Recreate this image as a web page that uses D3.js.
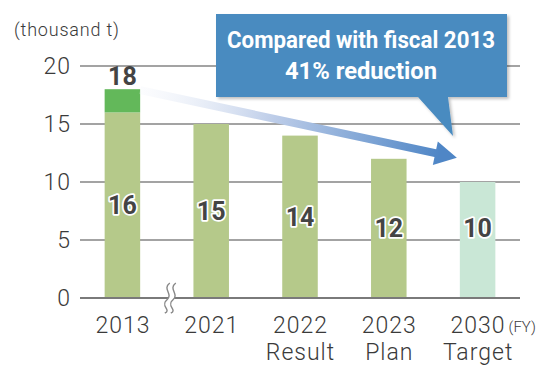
<!DOCTYPE html>
<html>
<head>
<meta charset="utf-8">
<script src="https://cdn.jsdelivr.net/npm/d3@7"></script>
<style>
  html, body { margin: 0; padding: 0; background: #fff; }
  svg { display: block; font-family: Roboto, "Noto Sans", sans-serif; }
</style>
</head>
<body>
<svg id="chart" width="550" height="370"></svg>
<script>
// ---- data ----
const categories = ["2013", "2021", "2022", "2023", "2030"];
const subLabels = ["", "", "Result", "Plan", "Target"];
const baseValues = [16, 15, 14, 12, 10];
const extraValues = [2, 0, 0, 0, 0];        // 2013 extra segment (total 18)
const totalLabel = "18";
const yTicks = [0, 5, 10, 15, 20];
const unitLabel = "(thousand t)";
const fyLabel = "(FY)";
const calloutLines = ["Compared with fiscal 2013", "41% reduction"];

// ---- setup ----
const svg = d3.select("#chart");
const x = d3.scaleBand().domain(categories).range([78, 522]).paddingInner(0.6).paddingOuter(0.3);
const y = d3.scaleLinear().domain([0, 20]).range([298, 66]);

const textCol = "#3a3a3a";
const lightGreen = "#b5c98a";
const darkGreen = "#63b85a";
const targetGreen = "#c9e7d6";

const defs = svg.append("defs");
const grad = defs.append("linearGradient").attr("id", "arrowGrad")
  .attr("gradientUnits", "userSpaceOnUse")
  .attr("x1", x("2013") + x.bandwidth()).attr("y1", y(18))
  .attr("x2", x("2030") - 20).attr("y2", y(12.5));
grad.append("stop").attr("offset", "0").attr("stop-color", "#f4f6fb").attr("stop-opacity", 0.3);
grad.append("stop").attr("offset", "0.45").attr("stop-color", "#bccce8");
grad.append("stop").attr("offset", "1").attr("stop-color", "#4f86c6");

const shadow = defs.append("filter").attr("id", "shadow").attr("x", "-5%").attr("y", "-5%").attr("width", "115%").attr("height", "125%");
shadow.append("feDropShadow").attr("dx", 2).attr("dy", 2).attr("stdDeviation", 1.5)
  .attr("flood-color", "#000").attr("flood-opacity", 0.25);

// gridlines
svg.append("g").selectAll("line").data(yTicks.filter(d => d > 0)).join("line")
  .attr("x1", 80).attr("x2", 520)
  .attr("y1", d => y(d)).attr("y2", d => y(d))
  .attr("stroke", "#858585").attr("stroke-width", 1.5);

// y tick labels
svg.append("g").selectAll("text").data(yTicks).join("text")
  .attr("x", 71).attr("y", d => y(d)).attr("dy", "0.36em")
  .attr("text-anchor", "end").attr("font-size", 23).attr("font-weight", 300)
  .attr("letter-spacing", 1).attr("fill", textCol)
  .text(d => d);

svg.append("text").attr("x", 14).attr("y", 36).attr("font-size", 18).attr("font-weight", 300)
  .attr("letter-spacing", 0.8).attr("fill", textCol)
  .text(unitLabel);

// bars
const bars = svg.append("g");
bars.selectAll("rect.base").data(categories).join("rect")
  .attr("class", "base")
  .attr("x", d => x(d)).attr("width", x.bandwidth())
  .attr("y", (d, i) => y(baseValues[i]))
  .attr("height", (d, i) => y(0) - y(baseValues[i]))
  .attr("fill", (d, i) => i === categories.length - 1 ? targetGreen : lightGreen);
bars.selectAll("rect.extra").data(categories.filter((d, i) => extraValues[i] > 0)).join("rect")
  .attr("class", "extra")
  .attr("x", d => x(d)).attr("width", x.bandwidth())
  .attr("y", d => { const i = categories.indexOf(d); return y(baseValues[i] + extraValues[i]); })
  .attr("height", d => { const i = categories.indexOf(d); return y(baseValues[i]) - y(baseValues[i] + extraValues[i]); })
  .attr("fill", darkGreen);

// baseline
svg.append("line").attr("x1", 80).attr("x2", 520).attr("y1", y(0)).attr("y2", y(0))
  .attr("stroke", "#7a7a7a").attr("stroke-width", 2);

// axis break
const bx = (x("2013") + x.bandwidth() + x("2021")) / 2;
const br = svg.append("g").attr("transform", `translate(${bx},${y(0)})`);
const wave = "M3,-15 C-5,-9 7,-4 0,2 C-7,8 5,12 -2,15";
br.append("path").attr("d", "M3,-15 C-5,-9 7,-4 0,2 C-7,8 5,12 -2,15 L4,15 C11,12 -1,8 6,2 C13,-4 1,-9 9,-15 Z")
  .attr("fill", "#fff");
br.append("path").attr("d", wave).attr("fill", "none").attr("stroke", "#888").attr("stroke-width", 1.4);
br.append("path").attr("d", wave).attr("transform", "translate(6,0)").attr("fill", "none").attr("stroke", "#888").attr("stroke-width", 1.4);

// value labels
const valLabel = (sel) => sel.attr("text-anchor", "middle").attr("font-size", 25).attr("font-weight", 700)
  .attr("fill", "#444").attr("stroke", "#fff").attr("stroke-width", 3.5).attr("paint-order", "stroke")
  .attr("stroke-linejoin", "round");
svg.append("g").selectAll("text").data(categories).join("text")
  .attr("x", d => x(d) + x.bandwidth() / 2)
  .attr("y", (d, i) => y(Math.max(baseValues[i] / 2, 6)))
  .attr("dy", "0.36em")
  .call(valLabel)
  .text((d, i) => baseValues[i]);
svg.append("text").attr("x", x("2013") + x.bandwidth() / 2).attr("y", y(18) - 13).attr("dy", "0.36em")
  .attr("text-anchor", "middle").attr("font-size", 25).attr("font-weight", 700).attr("fill", "#444")
  .text(totalLabel);

// x labels
const xl = svg.append("g");
xl.selectAll("text.cat").data(categories).join("text").attr("class", "cat")
  .attr("x", d => x(d) + x.bandwidth() / 2 + 0.5).attr("y", 333)
  .attr("text-anchor", "middle").attr("font-size", 23).attr("font-weight", 300)
  .attr("letter-spacing", 1).attr("fill", textCol)
  .text(d => d);
xl.selectAll("text.sub").data(categories).join("text").attr("class", "sub")
  .attr("x", d => x(d) + x.bandwidth() / 2 + 0.5).attr("y", 360)
  .attr("text-anchor", "middle").attr("font-size", 23).attr("font-weight", 300)
  .attr("letter-spacing", 1).attr("fill", textCol)
  .text((d, i) => subLabels[i]);
svg.append("text").attr("x", x("2030") + x.bandwidth() / 2 + 31).attr("y", 332)
  .attr("font-size", 15).attr("font-weight", 300).attr("fill", textCol).text(fyLabel);

// trend arrow
const ax1 = x("2013") + x.bandwidth(), ay1 = y(18) + 1;
const tipX = x("2030") - 3, tipY = y(12) - 1;
const ang = Math.atan2(tipY - ay1, tipX - ax1);
const headLen = 22, headHalf = 12, lw = 8;
const bxH = tipX - headLen * Math.cos(ang), byH = tipY - headLen * Math.sin(ang);
const nx = -Math.sin(ang), ny = Math.cos(ang);
svg.append("path")
  .attr("d", `M${ax1 + nx * lw / 2},${ay1 + ny * lw / 2} L${bxH + nx * lw / 2},${byH + ny * lw / 2}
    L${bxH + nx * headHalf},${byH + ny * headHalf} L${tipX},${tipY}
    L${bxH - nx * headHalf},${byH - ny * headHalf} L${bxH - nx * lw / 2},${byH - ny * lw / 2}
    L${ax1 - nx * lw / 2},${ay1 - ny * lw / 2} Z`)
  .attr("fill", "url(#arrowGrad)");

// callout
const cg = svg.append("g").attr("filter", "url(#shadow)");
cg.append("path")
  .attr("d", "M216,14 L507,14 L507,97 L448,97 L453,136 L418,97 L216,97 Z")
  .attr("fill", "#4a8bc0");
calloutLines.forEach((t, i) => {
  svg.append("text").attr("x", 361).attr("y", 48 + i * 31)
    .attr("text-anchor", "middle").attr("font-size", 24).attr("font-weight", 700).attr("fill", "#fff")
    .attr("textLength", i === 0 ? 268 : 152).attr("lengthAdjust", "spacingAndGlyphs")
    .text(t);
});
</script>
</body>
</html>
